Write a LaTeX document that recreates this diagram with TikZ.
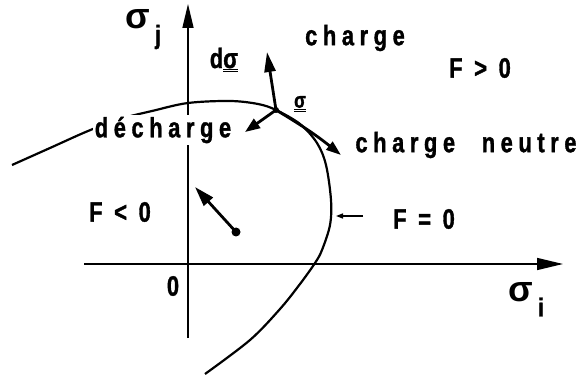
\documentclass[tikz,border=0pt]{standalone}
\usepackage{fontspec}
\setmainfont{Liberation Sans}
\newfontfamily\lab{Liberation Sans}[FakeStretch=0.78,LetterSpace=20,FakeBold=1.2]
\usetikzlibrary{arrows.meta}
\tikzset{
  lbl/.style={inner sep=1pt, font=\lab\bfseries\fontsize{28}{30}\selectfont},
  greek/.style={inner sep=0pt, font=\bfseries\fontsize{36}{38}\selectfont},
  sub/.style={inner sep=0pt, font=\lab\bfseries\fontsize{26}{28}\selectfont},
  axis/.style={line width=1.6pt},
  curve/.style={line width=2.2pt},
  vec/.style={line width=2.8pt, -{Triangle[length=16pt,width=10pt]}},
}
\begin{document}
\begin{tikzpicture}[x=1pt,y=-1pt]
\useasboundingbox (0,0) rectangle (583,379);
% axes
\coordinate (ob) at (188,338);
\coordinate (ot) at (188,4);
\coordinate (hl) at (84,264);
\coordinate (hr) at (563,264);
\draw[axis,-{Triangle[length=24pt,width=11pt]}] (ob) -- (ot);
\draw[axis,-{Triangle[length=26pt,width=12pt]}] (hl) -- (hr);
% yield curve F=0
\draw[curve] plot[smooth,tension=0.55] coordinates{
 (12,165) (50,148) (88,131) (120,119) (152,111) (188,103) (230,101) (258,104) (276,110)
 (300,124) (317,143) (326,165) (331,200) (330,225) (322,250) (315,263) (300,284)
 (280,309) (250,340) (205,374)};
% point sigma
\coordinate (s) at (276,110);
\fill (s) circle (3pt);
\coordinate (dsig) at (267,52);
\coordinate (dech) at (245,132);
\coordinate (neut) at (341,155);
\draw[vec,-{Triangle[length=20pt,width=11pt]}] (s) -- (dsig);
\draw[vec,-{Triangle[length=15pt,width=11pt]}] (s) -- (dech);
\draw[vec,-{Triangle[length=15pt,width=10pt]}] (s) to[bend left=4] (neut);
% gradient arrow
\coordinate (g0) at (236,232);
\coordinate (g1) at (195,187);
\fill (g0) circle (4.5pt);
\draw[vec,-{Triangle[length=20pt,width=12pt]}] (g0) -- (g1);
% F=0 pointer
\coordinate (p0) at (363,216);
\coordinate (p1) at (336,216);
\draw[line width=1.3pt,-{Triangle[length=7pt,width=5pt]}] (p0) -- (p1);
% labels
\node[greek] (sj) at (138,19) {σ};
\node[sub] (j) at (158,37) {j};
\node[greek] (si) at (521,292) {σ};
\node[sub] (i) at (541,307) {i};
\node[lbl] (dsl) at (224,60) {d\underline{\underline{σ}}};
\node[lbl, font=\lab\bfseries\fontsize{22}{24}\selectfont] (sl) at (300,104) {\underline{\underline{σ}}};
\node[lbl] (ch) at (355,38) {charge};
\node[lbl] (fp) at (480,68) {F > 0};
\node[lbl] (cn) at (466,145) {charge\hspace{15pt} neutre};
\node[lbl, fill=white, inner sep=2pt] (dc) at (163,130) {décharge};
\node[lbl] (fm) at (120,212) {F < 0};
\node[lbl] (fz) at (424,219) {F = 0};
\node[lbl] (zero) at (173,286) {0};
\end{tikzpicture}
\end{document}
